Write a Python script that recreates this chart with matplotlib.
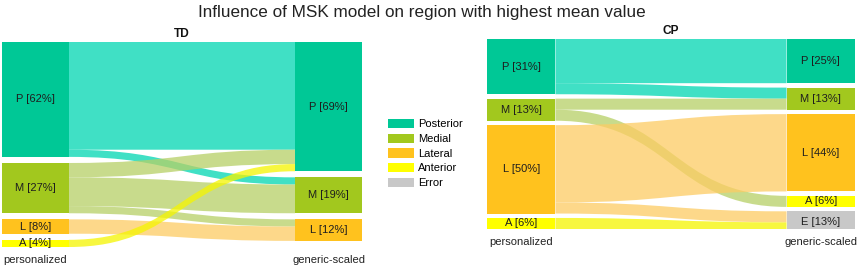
import math
import matplotlib
matplotlib.use("Agg")
import matplotlib.pyplot as plt
from matplotlib.path import Path
from matplotlib.patches import PathPatch, Rectangle, Patch

plt.rcParams['font.family'] = ['Liberation Sans', 'DejaVu Sans']

# ---------------- data ----------------
region_codes = ['P', 'M', 'L', 'A', 'E']
region_names = ['Posterior', 'Medial', 'Lateral', 'Anterior', 'Error']

td_left_nodes = ['P', 'M', 'L', 'A']
td_left_counts = [16, 7, 2, 1]
td_right_nodes = ['P', 'M', 'L']
td_right_counts = [18, 5, 3]
td_flow_src = ['P', 'P', 'M', 'M', 'M', 'L', 'A']
td_flow_dst = ['P', 'M', 'P', 'M', 'L', 'L', 'P']
td_flow_val = [15, 1, 2, 4, 1, 2, 1]

cp_left_nodes = ['P', 'M', 'L', 'A']
cp_left_counts = [5, 2, 8, 1]
cp_right_nodes = ['P', 'M', 'L', 'A', 'E']
cp_right_counts = [4, 2, 7, 1, 2]
cp_flow_src = ['P', 'P', 'M', 'M', 'L', 'L', 'A']
cp_flow_dst = ['P', 'M', 'M', 'A', 'L', 'E', 'E']
cp_flow_val = [4, 1, 1, 1, 7, 1, 1]

axis_left_label = 'personalized'
axis_right_label = 'generic-scaled'

# ---------------- style ----------------
node_colors = {'P': '#00C896', 'M': '#A2C81E', 'L': '#FFC21E', 'A': '#FFFF00', 'E': '#C8C8C8'}
flow_colors = {'P': '#00D6B2', 'M': '#B6D066', 'L': '#FDCC63', 'A': '#F5F500'}
flow_alpha = 0.75
FS = 8.0

W, H = 858, 268
fig = plt.figure(figsize=(W / 100, H / 100), dpi=100)


def px_axes(x0, x1, ytop, ybot):
    return fig.add_axes([x0 / W, 1 - ybot / H, (x1 - x0) / W, (ybot - ytop) / H])


def pct(c, total):
    return int(math.floor(100.0 * c / total + 0.5))


def draw_panel(ax, title, lnodes, lcounts, rnodes, rcounts, fsrc, fdst, fval, gap):
    nw = 0.186
    total = sum(lcounts)
    ltot = sum(lcounts) + gap * (len(lcounts) - 1)
    ax.set_xlim(0, 1)
    ax.set_ylim(ltot, 0)
    ax.axis('off')

    def positions(nodes, counts):
        pos = {}
        y = 0
        for n, c in zip(nodes, counts):
            pos[n] = [y, y + c]
            y += c + gap
        return pos

    lpos = positions(lnodes, lcounts)
    rpos = positions(rnodes, rcounts)
    lcur = {n: lpos[n][0] for n in lnodes}
    rcur = {n: rpos[n][0] for n in rnodes}

    order_r = {n: i for i, n in enumerate(rnodes)}
    order_l = {n: i for i, n in enumerate(lnodes)}
    flows = list(zip(fsrc, fdst, fval))
    src_y = {}
    for s, d, v in sorted(flows, key=lambda f: (order_l[f[0]], order_r[f[1]])):
        src_y[(s, d)] = (lcur[s], lcur[s] + v)
        lcur[s] += v
    dst_y = {}
    for s, d, v in sorted(flows, key=lambda f: (order_r[f[1]], order_l[f[0]])):
        dst_y[(s, d)] = (rcur[d], rcur[d] + v)
        rcur[d] += v

    x0, x1 = nw, 1 - nw
    xm = (x0 + x1) / 2
    for s, d, v in sorted(flows, key=lambda f: (order_l[f[0]], order_r[f[1]])):
        s0, s1 = src_y[(s, d)]
        t0, t1 = dst_y[(s, d)]
        verts = [(x0, s0), (xm, s0), (xm, t0), (x1, t0),
                 (x1, t1), (xm, t1), (xm, s1), (x0, s1), (x0, s0)]
        codes = [Path.MOVETO, Path.CURVE4, Path.CURVE4, Path.CURVE4,
                 Path.LINETO, Path.CURVE4, Path.CURVE4, Path.CURVE4, Path.CLOSEPOLY]
        ax.add_patch(PathPatch(Path(verts, codes), facecolor=flow_colors[s],
                               edgecolor='none', alpha=flow_alpha, zorder=2))

    for nodes, counts, pos, xa in ((lnodes, lcounts, lpos, 0), (rnodes, rcounts, rpos, 1 - nw)):
        for n, c in zip(nodes, counts):
            y0, y1 = pos[n]
            ax.add_patch(Rectangle((xa, y0), nw, c, facecolor=node_colors[n],
                                   edgecolor='none', zorder=3))
            ax.text(xa + nw / 2, (y0 + y1) / 2, f'{n} [{pct(c, total)}%]',
                    ha='center', va='center', fontsize=FS, color='#1e1e1e', zorder=4)

    ax.annotate(title, xy=(0.5, 1.0), xycoords='axes fraction',
                xytext=(0, 6), textcoords='offset points', ha='center', va='center',
                fontsize=8.6, fontweight='bold', color='#111111')
    ax.annotate(axis_left_label, xy=(nw / 2, 0), xycoords='axes fraction',
                xytext=(0, -9.6), textcoords='offset points', ha='center', va='center',
                fontsize=FS, color='#222222')
    ax.annotate(axis_right_label, xy=(1 - nw / 2, 0), xycoords='axes fraction',
                xytext=(0, -9.6), textcoords='offset points', ha='center', va='center',
                fontsize=FS, color='#222222')


ax_td = px_axes(2, 362, 42, 247)
draw_panel(ax_td, 'TD', td_left_nodes, td_left_counts, td_right_nodes, td_right_counts,
           td_flow_src, td_flow_dst, td_flow_val, gap=0.85)

ax_cp = px_axes(487, 855, 39, 229)
draw_panel(ax_cp, 'CP', cp_left_nodes, cp_left_counts, cp_right_nodes, cp_right_counts,
           cp_flow_src, cp_flow_dst, cp_flow_val, gap=0.4)

fig.text(422 / W, 1 - 12 / H, 'Influence of MSK model on region with highest mean value',
         ha='center', va='center', fontsize=12.3, color='#222222')

handles = [Patch(facecolor=node_colors[c], edgecolor='none') for c in region_codes]
fig.legend(handles, region_names, loc='upper left', bbox_to_anchor=(388 / W, 1 - 119 / H),
           frameon=False, fontsize=FS, handlelength=2.3, handleheight=0.9,
           handletextpad=0.4, labelspacing=0.38, borderpad=0, borderaxespad=0)

fig.savefig('out.png', dpi=100)
